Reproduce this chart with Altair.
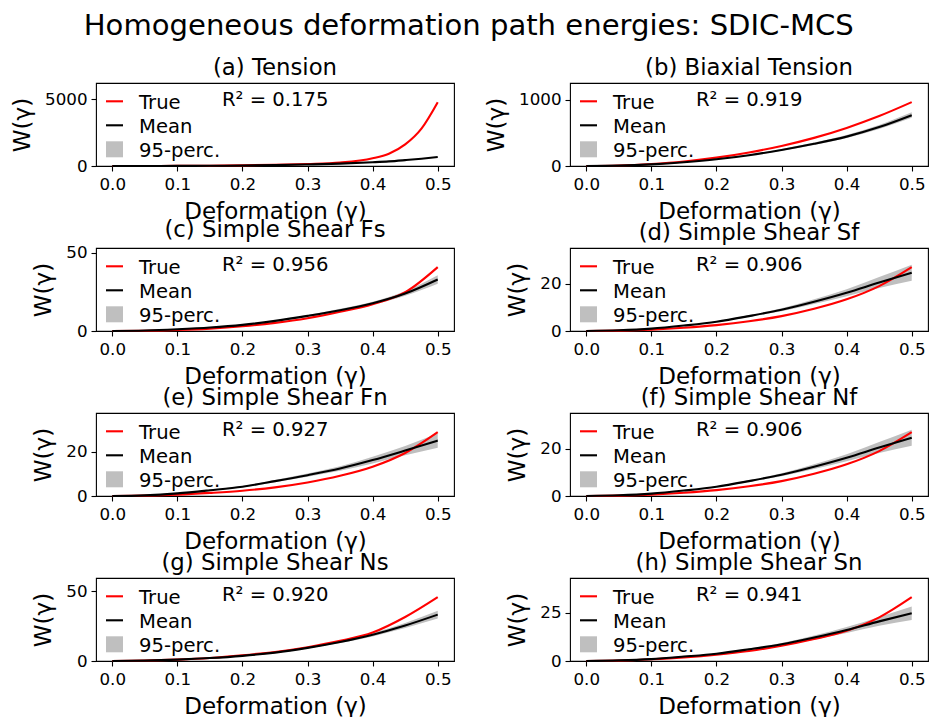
import altair as alt
import pandas as pd

# Deformation grid (gamma) on which the energies were sampled
GAMMA = [0.0, 0.05, 0.1, 0.15, 0.2, 0.25, 0.3, 0.35, 0.4, 0.45, 0.5]
GAMMA_TENSION = [0.0, 0.05, 0.1, 0.15, 0.2, 0.25, 0.3, 0.35, 0.4, 0.425, 0.45, 0.475, 0.5]
X_TICKS = [0.0, 0.1, 0.2, 0.3, 0.4, 0.5]

SERIES = ["True", "Mean", "95-perc."]
SERIES_COLORS = ["#ff0000", "#000000", "#bfbfbf"]

TITLES = [
    "(a) Tension", "(b) Biaxial Tension",
    "(c) Simple Shear Fs", "(d) Simple Shear Sf",
    "(e) Simple Shear Fn", "(f) Simple Shear Nf",
    "(g) Simple Shear Ns", "(h) Simple Shear Sn",
]
R2 = [0.175, 0.919, 0.956, 0.906, 0.927, 0.906, 0.920, 0.941]
Y_TICKS = [[0, 5000], [0, 1000], [0, 50], [0, 20], [0, 20], [0, 20], [0, 50], [0, 25]]

# (a) Tension
TENSION_TRUE = [0, 2, 9, 24, 50, 90, 150, 255, 575, 920, 1620, 2800, 4776]
TENSION_MEAN = [0, 1, 6, 16, 33, 62, 112, 180, 280, 345, 440, 545, 672]
TENSION_LO = [0, 1, 6, 15, 32, 60, 108, 173, 268, 331, 422, 523, 645]
TENSION_HI = [0, 1, 6, 17, 34, 64, 116, 187, 292, 359, 458, 567, 699]

# (b) Biaxial tension
BIAXIAL_TRUE = [0, 7, 30, 68, 126, 205, 303, 425, 576, 755, 965]
BIAXIAL_MEAN = [0, 6, 25, 57, 101, 163, 242, 335, 444, 588, 768]
BIAXIAL_LO = [0, 6, 24, 54, 96, 155, 230, 318, 422, 559, 730]
BIAXIAL_HI = [0, 6, 26, 60, 107, 172, 256, 354, 469, 620, 812]

# (c) Simple shear Fs
FS_TRUE = [0, 0.15, 0.6, 1.5, 3.0, 5.2, 8.2, 12.3, 17.2, 24.8, 40.9]
FS_MEAN = [0, 0.3, 1.1, 2.2, 3.9, 6.5, 9.7, 13.3, 17.8, 24.0, 33.0]
FS_LO = [0, 0.28, 1.05, 2.1, 3.7, 6.2, 9.2, 12.4, 16.9, 22.6, 30.3]
FS_HI = [0, 0.32, 1.15, 2.3, 4.1, 6.8, 10.2, 14.2, 18.7, 25.4, 35.7]

# (d) Simple shear Sf
SF_TRUE = [0, 0.15, 0.6, 1.4, 2.5, 4.1, 6.3, 9.4, 13.4, 19.0, 27.0]
SF_MEAN = [0, 0.3, 1.0, 2.3, 3.9, 6.3, 9.0, 12.4, 16.2, 20.5, 24.6]
SF_LO = [0, 0.28, 0.95, 2.18, 3.67, 5.92, 8.37, 11.4, 14.7, 18.2, 21.2]
SF_HI = [0, 0.32, 1.05, 2.42, 4.13, 6.68, 9.63, 13.4, 17.7, 22.8, 28.0]

# (e) Simple shear Fn
FN_TRUE = [0, 0.15, 0.6, 1.4, 2.4, 3.9, 6.1, 9.1, 13.2, 19.4, 28.8]
FN_MEAN = [0, 0.3, 1.2, 2.6, 4.2, 6.7, 9.4, 12.4, 16.2, 20.5, 25.0]
FN_LO = [0, 0.28, 1.13, 2.42, 3.9, 6.2, 8.7, 11.4, 14.7, 18.4, 21.8]
FN_HI = [0, 0.32, 1.27, 2.78, 4.5, 7.2, 10.1, 13.4, 17.7, 22.6, 28.2]

# (f) Simple shear Nf
NF_TRUE = [0, 0.15, 0.6, 1.4, 2.5, 4.1, 6.3, 9.4, 13.4, 19.0, 27.0]
NF_MEAN = [0, 0.3, 1.0, 2.3, 3.9, 6.3, 9.0, 12.4, 16.2, 20.5, 24.6]
NF_LO = [0, 0.28, 0.95, 2.18, 3.67, 5.92, 8.37, 11.4, 14.7, 18.2, 21.2]
NF_HI = [0, 0.32, 1.05, 2.42, 4.13, 6.68, 9.63, 13.4, 17.7, 22.8, 28.0]

# (g) Simple shear Ns
NS_TRUE = [0, 0.25, 1.0, 2.2, 4.1, 6.5, 9.9, 14.4, 20.4, 31.5, 45.7]
NS_MEAN = [0, 0.3, 1.0, 2.1, 3.7, 6.0, 9.4, 13.6, 18.8, 25.4, 33.2]
NS_LO = [0, 0.28, 0.95, 2.0, 3.5, 5.7, 8.9, 12.8, 17.6, 23.6, 30.4]
NS_HI = [0, 0.32, 1.05, 2.2, 3.9, 6.3, 9.9, 14.4, 20.0, 27.2, 36.0]

# (h) Simple shear Sn
SN_TRUE = [0, 0.2, 0.9, 1.9, 3.3, 5.2, 7.9, 11.4, 15.7, 22.7, 33.2]
SN_MEAN = [0, 0.3, 1.0, 2.3, 3.8, 6.1, 8.7, 12.2, 16.1, 20.6, 24.8]
SN_LO = [0, 0.28, 0.95, 2.15, 3.55, 5.65, 8.0, 11.1, 14.5, 18.3, 21.3]
SN_HI = [0, 0.32, 1.05, 2.45, 4.05, 6.55, 9.4, 13.3, 17.7, 22.9, 28.4]

PANEL_GAMMA = [GAMMA_TENSION] + [GAMMA] * 7
PANEL_TRUE = [TENSION_TRUE, BIAXIAL_TRUE, FS_TRUE, SF_TRUE, FN_TRUE, NF_TRUE, NS_TRUE, SN_TRUE]
PANEL_MEAN = [TENSION_MEAN, BIAXIAL_MEAN, FS_MEAN, SF_MEAN, FN_MEAN, NF_MEAN, NS_MEAN, SN_MEAN]
PANEL_LO = [TENSION_LO, BIAXIAL_LO, FS_LO, SF_LO, FN_LO, NF_LO, NS_LO, SN_LO]
PANEL_HI = [TENSION_HI, BIAXIAL_HI, FS_HI, SF_HI, FN_HI, NF_HI, NS_HI, SN_HI]

FONT = "DejaVu Sans"
PANEL_W, PANEL_H = 358, 83
LABEL_SIZE = 19.6


def legend_key(i, label):
    """One legend row (handle + label) drawn in the panel's upper-left corner."""
    row_mid = 18.3 + 24 * i
    if label == "95-perc.":
        handle = alt.Chart(pd.DataFrame({"k": [label]})).mark_rect(
            color=SERIES_COLORS[i]
        ).encode(
            x=alt.value(10), x2=alt.value(27),
            y=alt.value(row_mid - 8), y2=alt.value(row_mid + 8),
        )
    else:
        handle = alt.Chart(pd.DataFrame({"k": [label]})).mark_rule(
            color=SERIES_COLORS[i], strokeWidth=2.1
        ).encode(
            x=alt.value(10), x2=alt.value(27), y=alt.value(row_mid),
        )
    text = alt.Chart(pd.DataFrame({"k": [label]})).mark_text(
        align="left", baseline="alphabetic", font=FONT, fontSize=LABEL_SIZE, color="black"
    ).encode(x=alt.value(43), y=alt.value(26 + 24 * i), text="k:N")
    return [handle, text]


def make_panel(i):
    gamma = PANEL_GAMMA[i]
    w_true, w_mean = PANEL_TRUE[i], PANEL_MEAN[i]
    n = len(gamma)
    lines = pd.DataFrame({
        "gamma": gamma + gamma,
        "W": w_true + w_mean,
        "series": ["True"] * n + ["Mean"] * n,
    })
    band = pd.DataFrame({"gamma": gamma, "lo": PANEL_LO[i], "hi": PANEL_HI[i], "series": "95-perc."})
    note = pd.DataFrame({"label": [f"R² = {R2[i]:.3f}"]})

    y_max = 1.3 * max(w_true)
    x_enc = alt.X(
        "gamma:Q",
        scale=alt.Scale(domain=[-0.025, 0.525], nice=False, zero=False),
        axis=alt.Axis(values=X_TICKS, format=".1f", title="Deformation (γ)"),
    )
    y_scale = alt.Scale(domain=[0, y_max], nice=False, zero=False)
    y_axis = alt.Axis(values=Y_TICKS[i], format="d", title="W(γ)")
    color = alt.Color(
        "series:N",
        scale=alt.Scale(domain=SERIES, range=SERIES_COLORS),
        legend=None,
    )

    area = alt.Chart(band).mark_area(interpolate="monotone", opacity=1).encode(
        x=x_enc,
        y=alt.Y("lo:Q", scale=y_scale, axis=y_axis),
        y2="hi:Q",
        color=color,
    )
    curves = alt.Chart(lines).mark_line(interpolate="monotone", strokeWidth=2.1).encode(
        x=x_enc,
        y=alt.Y("W:Q", scale=y_scale, axis=y_axis),
        color=color,
    )
    text = alt.Chart(note).mark_text(
        align="left", baseline="alphabetic", font=FONT, fontSize=LABEL_SIZE, color="black"
    ).encode(x=alt.value(126), y=alt.value(23), text="label:N")

    keys = []
    for k, s in enumerate(SERIES):
        keys += legend_key(k, s)

    return alt.layer(area, curves, text, *keys).properties(
        width=PANEL_W,
        height=PANEL_H,
        title=alt.TitleParams(
            TITLES[i], font=FONT, fontSize=22.8, fontWeight="normal", color="black",
            anchor="middle", frame="group", baseline="top", offset=3.5,
        ),
    )


chart = alt.concat(
    *[make_panel(i) for i in range(8)],
    columns=2,
    spacing={"row": 82, "column": 116},
    bounds="flush",
    title=alt.TitleParams(
        "Homogeneous deformation path energies: SDIC-MCS",
        font=FONT, fontSize=29.1, fontWeight="normal", color="black",
        anchor="middle", baseline="top", offset=15, dx=-1,
    ),
).resolve_scale(
    x="independent", y="independent", color="independent"
).properties(
    padding={"left": 10, "top": 12, "right": 0, "bottom": 0},
    background="white",
).configure(
    font=FONT,
).configure_view(
    stroke="black", strokeWidth=1.1,
).configure_axis(
    domain=False,
    grid=False,
    tickColor="black",
    tickWidth=1.1,
    tickSize=5,
    labelFont=FONT,
    labelFontSize=16.7,
    labelColor="black",
    titleFont=FONT,
    titleFontSize=23,
    titleFontWeight="normal",
    titleColor="black",
).configure_axisX(
    labelPadding=5, titlePadding=7.5,
).configure_axisY(
    labelPadding=4, titlePadding=10,
)

chart.save("out.html", embed_options={"renderer": "svg", "actions": False})
